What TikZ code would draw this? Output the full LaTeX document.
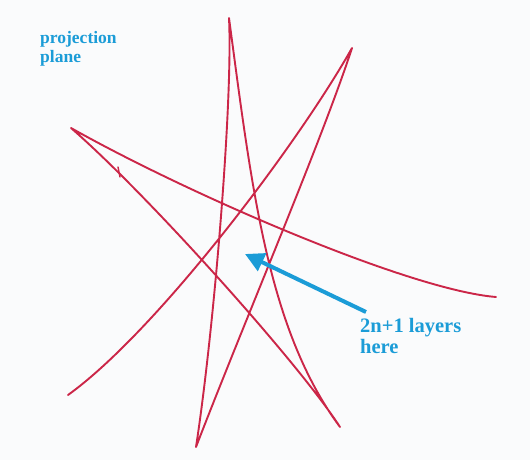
\documentclass[tikz,border=0pt]{standalone}
\usepackage{fontspec}
\setmainfont{Liberation Serif}
\usetikzlibrary{arrows.meta}
\definecolor{inkred}{RGB}{203,38,72}
\definecolor{inkblue}{RGB}{27,156,215}
\definecolor{paper}{RGB}{250,251,252}
\tikzset{
  redline/.style={draw=inkred, line width=1.9pt, line cap=round, line join=round},
  bluearrow/.style={draw=inkblue, line width=4pt, -{Triangle[length=19pt,width=19pt]}},
  smalllabel/.style={text=inkblue, font=\bfseries\fontsize{17.5}{19}\selectfont, anchor=base west, inner sep=0pt},
  biglabel/.style={text=inkblue, font=\bfseries\fontsize{20.5}{21}\selectfont, anchor=base west, inner sep=0pt}
}
\begin{document}
\begin{tikzpicture}[x=1pt,y=-1pt]
\path[use as bounding box, fill=paper] (0,0) rectangle (530,460);
% vertices of the hand-drawn star
\coordinate (T) at (229,18);
\coordinate (UR) at (352,48);
\coordinate (L) at (71,128);
\coordinate (R) at (496,297);
\coordinate (LL) at (68,395);
\coordinate (B) at (196,447);
\coordinate (BR) at (340,427);
\coordinate (tickA) at (118,167);
\coordinate (tickB) at (120,177);
\draw[redline] (LL) .. controls (157,331) and (298,144) .. (UR)
  .. controls (322,140) and (245,320) .. (B)
  .. controls (214,330) and (233,100) .. (T)
  .. controls (252,190) and (268,330) .. (BR)
  .. controls (298,362) and (145,192) .. (L)
  .. controls (190,195) and (410,290) .. (R);
\draw[redline, line width=1.4pt] (tickA) -- (tickB);
% labels
\node[smalllabel] (t1) at (40,44) {projection};
\node[smalllabel] (t2) at (40,63) {plane};
\node[biglabel] (l1) at (360,332) {2n+1 layers};
\node[biglabel] (l2) at (360,353) {here};
% arrow
\coordinate (tail) at (366,312);
\coordinate (tip) at (245,254);
\draw[bluearrow] (tail) -- (tip);
\end{tikzpicture}
\end{document}
